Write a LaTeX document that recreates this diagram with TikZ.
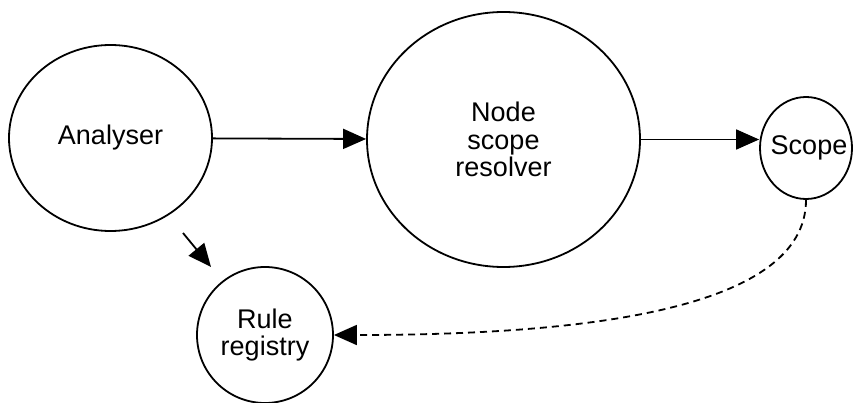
\documentclass[tikz,border=0pt]{standalone}
\usepackage{fontspec}
\setmainfont{Liberation Sans}
\usepackage{tikz}
\usetikzlibrary{shapes.geometric, arrows.meta}

\begin{document}
\begin{tikzpicture}[x=1pt, y=1pt,
  circ/.style={draw, ellipse, line width=1.8pt, inner sep=0pt, align=center,
               font=\fontsize{27}{27.5}\selectfont},
  fl/.style={-{Triangle[length=23pt, width=20pt]}, line width=1.8pt},
  fld/.style={fl, dash pattern=on 7pt off 5pt}]
\useasboundingbox (0,0) rectangle (853,-403);
\node[circ, minimum width=203pt, minimum height=186pt] (ana) at (110.5,-138) {Analyser};
\node[circ, minimum width=273pt, minimum height=255pt] (res) at (503.5,-139.5) {Node\\scope\\resolver};
\node[circ, minimum width=92pt, minimum height=102pt] (scp) at (806,-148) {\makebox[0pt]{\hspace{6pt}Scope}};
\node[circ, minimum width=136pt, minimum height=136pt] (reg) at (265,-335) {Rule\\registry};
\coordinate (k0) at (183,-233);
\coordinate (k1) at (211,-267);
\draw[fl] (ana) -- (res);
\draw[fl] (res.east) -- (res.east -| scp.west);
\draw[fl] (k0) -- (k1);
\draw[fld] (scp.south) .. controls +(0,-110) and +(250,0) .. (reg.east);
\end{tikzpicture}
\end{document}
